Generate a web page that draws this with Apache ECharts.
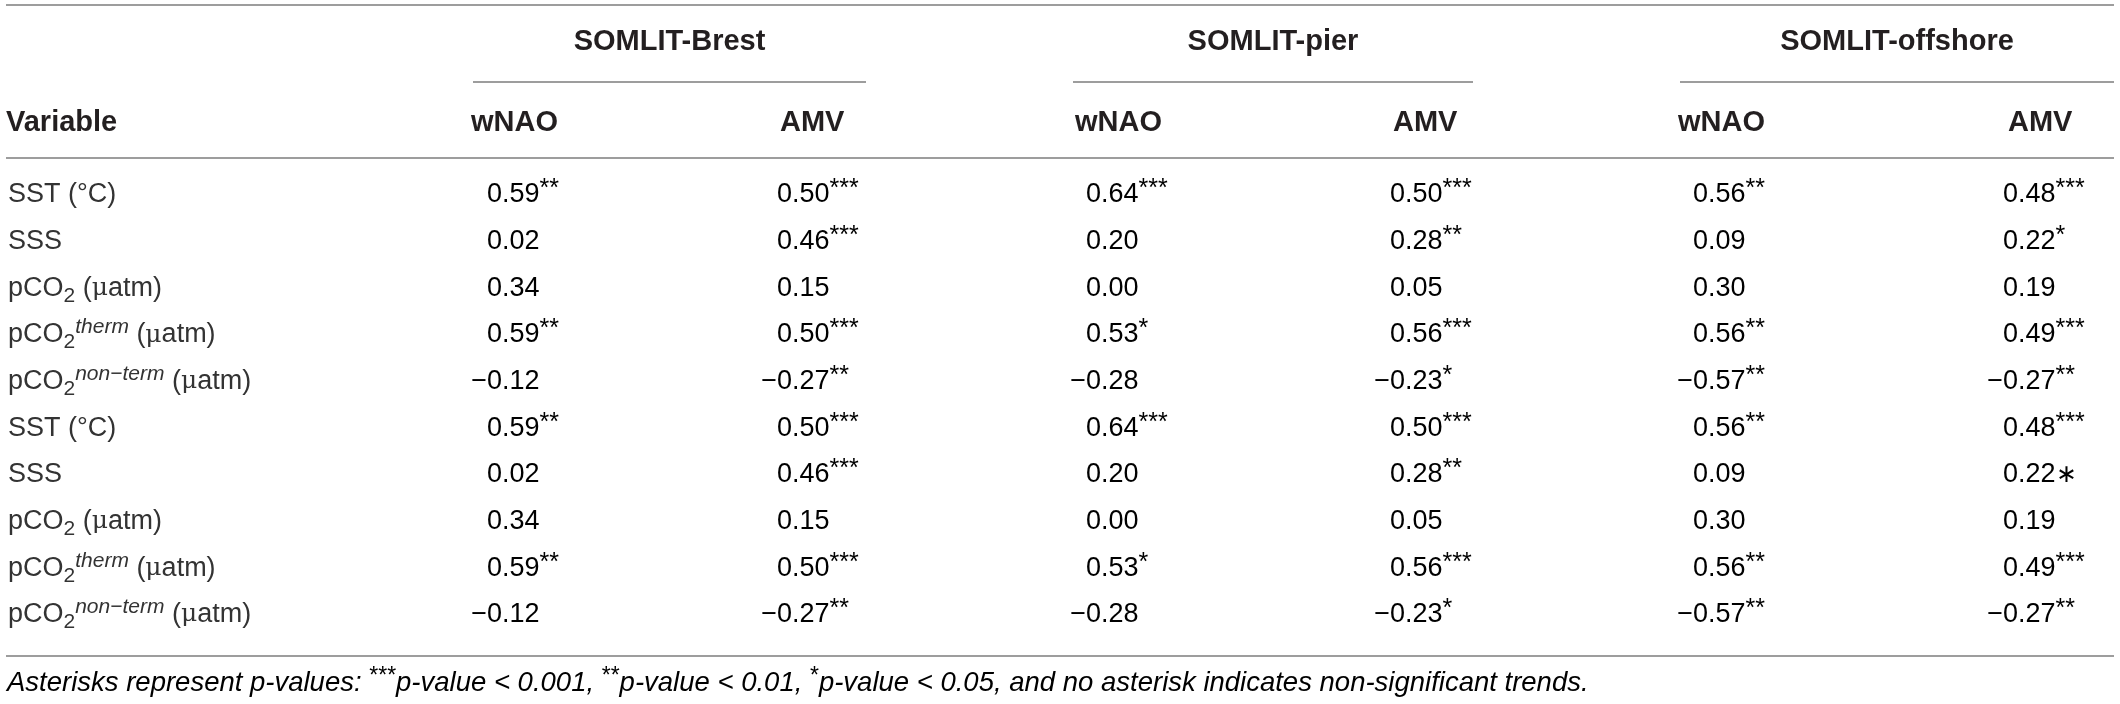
<!DOCTYPE html>
<html>
<head>
<meta charset="UTF-8">
<script type="text/javascript" src="https://cdn.jsdelivr.net/npm/echarts@6/dist/echarts.min.js"></script>
<title>wNAO / AMV correlations</title>
<style type="text/css">
	html, body{margin:0;padding:0;background:#fff}
	#table_box{width:2120px;height:704px}
</style>
</head>
<body>
<div id="table_box"></div>
<script type="text/javascript">
// 表格数据
var variables = ['SST (°C)', 'SSS', 'pCO2 (μatm)', 'pCO2therm (μatm)', 'pCO2non−term (μatm)',
                 'SST (°C)', 'SSS', 'pCO2 (μatm)', 'pCO2therm (μatm)', 'pCO2non−term (μatm)'];
var stations = ['SOMLIT-Brest', 'SOMLIT-pier', 'SOMLIT-offshore'];
var indices = ['wNAO', 'AMV'];

var brestWnao    = [0.59, 0.02, 0.34, 0.59, -0.12, 0.59, 0.02, 0.34, 0.59, -0.12];
var brestWnaoSig = ['**', '', '', '**', '', '**', '', '', '**', ''];
var brestAmv     = [0.50, 0.46, 0.15, 0.50, -0.27, 0.50, 0.46, 0.15, 0.50, -0.27];
var brestAmvSig  = ['***', '***', '', '***', '**', '***', '***', '', '***', '**'];
var pierWnao     = [0.64, 0.20, 0.00, 0.53, -0.28, 0.64, 0.20, 0.00, 0.53, -0.28];
var pierWnaoSig  = ['***', '', '', '*', '', '***', '', '', '*', ''];
var pierAmv      = [0.50, 0.28, 0.05, 0.56, -0.23, 0.50, 0.28, 0.05, 0.56, -0.23];
var pierAmvSig   = ['***', '**', '', '***', '*', '***', '**', '', '***', '*'];
var offWnao      = [0.56, 0.09, 0.30, 0.56, -0.57, 0.56, 0.09, 0.30, 0.56, -0.57];
var offWnaoSig   = ['**', '', '', '**', '**', '**', '', '', '**', '**'];
var offAmv       = [0.48, 0.22, 0.19, 0.49, -0.27, 0.48, 0.22, 0.19, 0.49, -0.27];
var offAmvSig    = ['***', '*', '', '***', '**', '***', '∗', '', '***', '**'];

var footnote = [['Asterisks represent p-values: ', ''], ['p-value < 0.001, ', '***'],
                ['p-value < 0.01, ', '**'], ['p-value < 0.05, and no asterisk indicates non-significant trends.', '*']];

var columns = [brestWnao, brestAmv, pierWnao, pierAmv, offWnao, offAmv];
var columnSigs = [brestWnaoSig, brestAmvSig, pierWnaoSig, pierAmvSig, offWnaoSig, offAmvSig];

// 版式
var FONT = '"Liberation Sans", Arial, Helvetica, sans-serif';
var INK = '#333333';
var HEAD_INK = '#231f20';
var COL_X = [487, 777, 1086, 1390, 1693, 2003];   // left edge of the leading "0"
var ZERO_W = 15;
var HEAD_X = [471, 780, 1075, 1393, 1678, 2008];
var GROUP_SPAN = [[473, 866], [1073, 1473], [1680, 2114]];
var RULE_X = [6, 2114];

var cells = [];
for (var c = 0; c < columns.length; c++) {
	for (var r = 0; r < variables.length; r++) {
		cells.push([c, r, columns[c][r], columnSigs[c][r]]);
	}
}

var numRich = {
	n: {fontFamily: FONT, fontSize: 27, lineHeight: 36, color: INK},
	s: {fontFamily: FONT, fontSize: 25, lineHeight: 25, verticalAlign: 'top', color: INK},
	m: {fontFamily: FONT, fontSize: 25, lineHeight: 36, color: INK}
};

function renderCell(params, api) {
	var item = cells[params.dataIndex];
	var v = item[2], star = item[3];
	var p = api.coord([COL_X[item[0]], item[1]]);
	var parts = Math.abs(v).toFixed(2).split('.');
	var intPart = (v < 0 ? '−' : '') + parts[0];
	var rest = '{n|.' + parts[1] + '}';
	if (star === '∗') rest += '{m|∗}';
	else if (star) rest += '{s|' + star + '}';
	var xd = p[0] + ZERO_W;
	return {
		type: 'group',
		children: [
			{type: 'text', x: xd, y: p[1], style: {text: '{n|' + intPart + '}', rich: numRich, align: 'right', verticalAlign: 'middle'}},
			{type: 'text', x: xd, y: p[1], style: {text: rest, rich: numRich, align: 'left', verticalAlign: 'middle'}}
		]
	};
}

function variableLabel(name) {
	var m = name.match(/^pCO2(\S*) \(μatm\)$/);
	if (!m) return '{t|' + name + '}';
	var s = '{t|pCO}{sub|2}';
	if (m[1]) s += '{sup|' + m[1] + '}';
	return s + '{t| (}{mu|μ}{t|atm)}';
}

var graphics = [];
[5, 158, 656].forEach(function (y) {
	graphics.push({type: 'line', shape: {x1: RULE_X[0], y1: y, x2: RULE_X[1], y2: y}, style: {stroke: '#7d7d7d', lineWidth: 1.3}});
});
stations.forEach(function (name, i) {
	var a = GROUP_SPAN[i][0], b = GROUP_SPAN[i][1];
	graphics.push({type: 'line', shape: {x1: a, y1: 82, x2: b, y2: 82}, style: {stroke: '#7d7d7d', lineWidth: 1.3}});
	graphics.push({type: 'text', x: (a + b) / 2, y: 42, style: {text: name, font: 'bold 29px ' + FONT, fill: HEAD_INK, align: 'center', verticalAlign: 'middle'}});
});
graphics.push({type: 'text', x: 6, y: 123, style: {text: 'Variable', font: 'bold 29px ' + FONT, fill: HEAD_INK, align: 'left', verticalAlign: 'middle'}});
HEAD_X.forEach(function (x, i) {
	graphics.push({type: 'text', x: x, y: 123, style: {text: indices[i % 2], font: 'bold 29px ' + FONT, fill: HEAD_INK, align: 'left', verticalAlign: 'middle'}});
});
var noteText = footnote.map(function (f) {
	return (f[1] ? '{s|' + f[1] + '}' : '') + '{i|' + f[0] + '}';
}).join('');
graphics.push({type: 'text', x: 7, y: 683, style: {
	text: noteText, align: 'left', verticalAlign: 'middle',
	rich: {
		i: {fontFamily: FONT, fontStyle: 'italic', fontSize: 27.5, lineHeight: 36, color: INK},
		s: {fontFamily: FONT, fontSize: 23, lineHeight: 24, verticalAlign: 'top', color: INK}
	}
}});

echarts.dispose(document.getElementById('table_box'));
var table_box = echarts.init(document.getElementById('table_box'));
var option = {
	animation: false,
	grid: {left: 0, right: 0, top: 171.7, bottom: 65.7},
	xAxis: {type: 'value', min: 0, max: 2120, show: false},
	yAxis: {
		type: 'category',
		data: variables,
		inverse: true,
		axisLine: {show: false},
		axisTick: {show: false},
		splitLine: {show: false},
		axisLabel: {
			inside: true,
			margin: 8,
			interval: 0,
			formatter: variableLabel,
			rich: {
				t: {fontFamily: FONT, fontSize: 27, lineHeight: 36, color: INK},
				sub: {fontFamily: FONT, fontSize: 21, lineHeight: 14, verticalAlign: 'bottom', color: INK},
				sup: {fontFamily: FONT, fontStyle: 'italic', fontSize: 21, lineHeight: 12, verticalAlign: 'top', color: INK},
				mu: {fontFamily: '"DejaVu Serif", serif', fontSize: 25, lineHeight: 36, color: INK}
			}
		}
	},
	graphic: graphics,
	series: [{
		type: 'custom',
		renderItem: renderCell,
		data: cells.map(function (d) { return [d[0], d[1], d[2]]; }),
		encode: {x: -1, y: 1},
		silent: true
	}]
};
table_box.setOption(option);
</script>
</body>
</html>
